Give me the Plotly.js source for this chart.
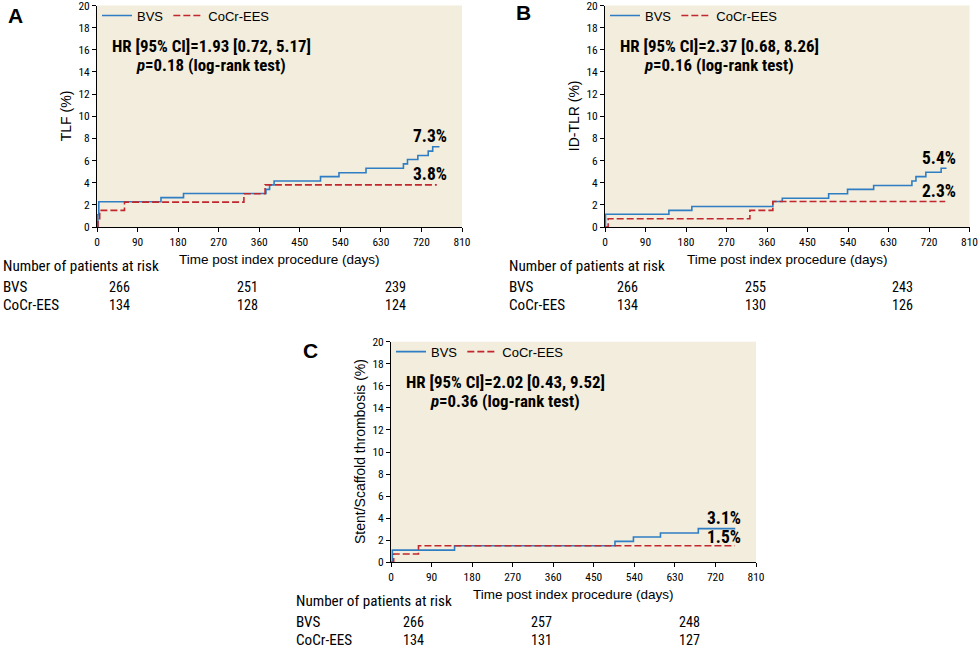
<!DOCTYPE html>
<html>
<head>
<meta charset="utf-8">
<script src="https://cdn.plot.ly/plotly-3.0.1.min.js"></script>
<style>
html,body{margin:0;padding:0;background:#fff;}
#chart{width:979px;height:650px;}
svg text{font-stretch:condensed;}
</style>
</head>
<body>
<div id="chart"></div>
<script>
// ---------- DATA ----------
// Panel A: TLF (%)
const A_bvs_days = [0, 2, 4, 142, 192, 375, 383, 393, 496, 537, 597, 680, 689, 712, 735, 745, 760];
const A_bvs_pct  = [0, 1.1, 2.28, 2.65, 3.03, 3.4, 3.8, 4.15, 4.55, 4.9, 5.3, 5.7, 6.1, 6.45, 6.85, 7.25, 7.25];
const A_ees_days = [0, 2, 6, 61, 326, 373, 754];
const A_ees_pct  = [0, 0.75, 1.5, 2.25, 3.0, 3.8, 3.8];
// Panel B: ID-TLR (%)
const B_bvs_days = [0, 1, 142, 193, 373, 394, 497, 539, 597, 682, 691, 713, 747, 759];
const B_bvs_pct  = [0, 1.15, 1.5, 1.85, 2.3, 2.6, 3.0, 3.4, 3.75, 4.15, 4.55, 4.95, 5.3, 5.3];
const B_ees_days = [0, 7, 322, 373, 756];
const B_ees_pct  = [0, 0.75, 1.5, 2.3, 2.3];
// Panel C: Stent/Scaffold thrombosis (%)
const C_bvs_days = [0, 3, 141, 497, 538, 598, 682, 764];
const C_bvs_pct  = [0, 1.1, 1.5, 1.9, 2.3, 2.65, 3.05, 3.05];
const C_ees_days = [0, 6, 61, 763];
const C_ees_pct  = [0, 0.75, 1.5, 1.5];

const seriesNames = ["BVS", "CoCr-EES"];
const panelLetters = ["A", "B", "C"];
const yTitles = ["TLF (%)", "ID-TLR (%)", "Stent/Scaffold thrombosis (%)"];
const xTitle = "Time post index procedure (days)";
const riskTitle = "Number of patients at risk";
const hrTexts = ["HR [95% CI]=1.93 [0.72, 5.17]", "HR [95% CI]=2.37 [0.68, 8.26]", "HR [95% CI]=2.02 [0.43, 9.52]"];
const pTexts = ["0.18", "0.16", "0.36"];
const endBvs = ["7.3%", "5.4%", "3.1%"];
const endEes = ["3.8%", "2.3%", "1.5%"];
const riskBvs = [[266, 251, 239], [266, 255, 243], [266, 257, 248]];
const riskEes = [[134, 128, 124], [134, 130, 126], [134, 131, 127]];
const xTicks = [0, 90, 180, 270, 360, 450, 540, 630, 720, 810];
const yTicks = [0, 2, 4, 6, 8, 10, 12, 14, 16, 18, 20];

// ---------- STYLE / LAYOUT HELPERS ----------
const W = 979, H = 650;
const px = x => x / W;
const py = y => 1 - y / H;
const BLUE = "#2f7ec3", RED = "#c1272d", BG = "#f2eddc";
const NARROW = '"Liberation Sans Narrow", "Roboto Condensed", "DejaVu Sans Condensed", "DejaVu Sans", sans-serif';
const REG = '"Liberation Sans", Arial, sans-serif';

// choose a font size so that the text gets a target width (condensed face when available)
const ctx = document.createElement("canvas").getContext("2d");
function fitSize(text, weight, target, maxSize) {
  ctx.font = weight + " condensed 100px " + NARROW;
  try { ctx.fontStretch = "condensed"; } catch (e) {}
  const w = ctx.measureText(text).width;
  return Math.min(maxSize, 100 * target / w);
}
const hrSize = fitSize(hrTexts[0], "bold", 199, 18);
const endSize = fitSize(endBvs[0], "bold", 34, 18);
const tickSize = fitSize("810", "normal", 17, 12);
const riskLabelSize = fitSize(riskTitle, "normal", 156, 17);
const riskNumSize = fitSize("266", "normal", 21, 17);

// plot boxes in pixels: [left, right, top, bottom]
const boxes = [[97, 462, 5.5, 227], [605, 969.5, 5.5, 227], [391, 756, 341.7, 562.3]];
const riskDays = [50, 335, 662];
const endX = [782, 784, 781];
const endYBvs = [8.2, 6.2, 4.05];
const endYEes = [4.8, 3.25, 2.25];

const bvsDays = [A_bvs_days, B_bvs_days, C_bvs_days];
const bvsPct = [A_bvs_pct, B_bvs_pct, C_bvs_pct];
const eesDays = [A_ees_days, B_ees_days, C_ees_days];
const eesPct = [A_ees_pct, B_ees_pct, C_ees_pct];

const traces = [];
const annotations = [];
const layout = {
  width: W, height: H,
  margin: {l: 0, r: 0, t: 0, b: 0},
  paper_bgcolor: "#ffffff",
  plot_bgcolor: BG,
  showlegend: true,
  font: {family: NARROW, color: "#000"},
  annotations: annotations
};

for (let i = 0; i < 3; i++) {
  const [L, R, T, B] = boxes[i];
  const sfx = i === 0 ? "" : String(i + 1);
  const xr = "x" + sfx, yr = "y" + sfx;
  const lg = i === 0 ? "legend" : "legend" + (i + 1);
  const axCommon = {
    ticks: "outside", ticklen: 4, tickwidth: 1, tickcolor: "#000",
    showline: true, linecolor: "#000", linewidth: 1, showgrid: false, zeroline: false,
    tickfont: {family: NARROW, size: tickSize, color: "#000"}, fixedrange: true,
    ticklabeloverflow: "allow"
  };
  layout["xaxis" + sfx] = Object.assign({
    domain: [px(L), px(R)], anchor: yr, range: [0, 810], tickmode: "array", tickvals: xTicks
  }, axCommon);
  layout["yaxis" + sfx] = Object.assign({
    domain: [py(B), py(T)], anchor: xr, range: [0, 20], tickmode: "array", tickvals: yTicks
  }, axCommon);
  layout[lg] = {
    x: px(L), y: py(T - 5), xanchor: "left", yanchor: "top",
    orientation: "h", bgcolor: "rgba(0,0,0,0)", borderwidth: 0,
    font: {family: REG, size: 13, color: "#000"}, itemwidth: 30, tracegroupgap: 0
  };
  traces.push({
    x: bvsDays[i], y: bvsPct[i], xaxis: xr, yaxis: yr, type: "scatter", mode: "lines",
    line: {shape: "hv", color: BLUE, width: 1.6}, name: seriesNames[0], legend: lg, hoverinfo: "skip"
  });
  traces.push({
    x: eesDays[i], y: eesPct[i], xaxis: xr, yaxis: yr, type: "scatter", mode: "lines",
    line: {shape: "hv", color: RED, width: 1.6, dash: "7px,3px"}, name: seriesNames[1], legend: lg, hoverinfo: "skip"
  });

  const cx = (L + R) / 2;
  // panel letter
  annotations.push({text: "<b>" + panelLetters[i] + "</b>", xref: "paper", yref: "paper",
    x: px([6, 514, 301][i]), y: py(T + [9.5, 7, 9][i]), xanchor: "left", yanchor: "middle",
    showarrow: false, font: {family: REG, size: 21, color: "#000"}});
  // HR and p text
  annotations.push({text: "<b>" + hrTexts[i] + "</b>", xref: "paper", yref: "paper",
    x: px(L + 114), y: py(T + 40), xanchor: "center", yanchor: "middle",
    showarrow: false, font: {family: NARROW, size: hrSize, color: "#000"}});
  annotations.push({text: "<b><i>p</i>=" + pTexts[i] + " (log-rank test)</b>", xref: "paper", yref: "paper",
    x: px(L + 114), y: py(T + 59), xanchor: "center", yanchor: "middle",
    showarrow: false, font: {family: NARROW, size: hrSize, color: "#000"}});
  // end-of-curve labels
  annotations.push({text: "<b>" + endBvs[i] + "</b>", xref: xr, yref: yr,
    x: endX[i], y: endYBvs[i], xanchor: "right", yanchor: "middle",
    showarrow: false, font: {family: NARROW, size: endSize, color: "#000"}});
  annotations.push({text: "<b>" + endEes[i] + "</b>", xref: xr, yref: yr,
    x: endX[i], y: endYEes[i], xanchor: "right", yanchor: "middle",
    showarrow: false, font: {family: NARROW, size: endSize, color: "#000"}});
  // axis titles
  annotations.push({text: xTitle, xref: "paper", yref: "paper",
    x: px(cx), y: py(B + 32), xanchor: "center", yanchor: "middle",
    showarrow: false, font: {family: REG, size: 13.5, color: "#000"}});
  annotations.push({text: yTitles[i], xref: "paper", yref: "paper",
    x: px(L - 31), y: py((T + B) / 2), xanchor: "center", yanchor: "middle", textangle: -90,
    showarrow: false, font: {family: REG, size: 14, color: "#000"}});
  // number at risk table
  const tl = [1, 507, 294][i];
  const rowY = [B + 39, B + 60, B + 78];
  annotations.push({text: riskTitle, xref: "paper", yref: "paper",
    x: px(tl), y: py(rowY[0]), xanchor: "left", yanchor: "middle",
    showarrow: false, font: {family: NARROW, size: riskLabelSize, color: "#000"}});
  annotations.push({text: seriesNames[0], xref: "paper", yref: "paper",
    x: px(tl), y: py(rowY[1]), xanchor: "left", yanchor: "middle",
    showarrow: false, font: {family: NARROW, size: riskLabelSize, color: "#000"}});
  annotations.push({text: seriesNames[1], xref: "paper", yref: "paper",
    x: px(tl), y: py(rowY[2]), xanchor: "left", yanchor: "middle",
    showarrow: false, font: {family: NARROW, size: riskLabelSize, color: "#000"}});
  for (let k = 0; k < 3; k++) {
    annotations.push({text: String(riskBvs[i][k]), xref: xr, yref: "paper",
      x: riskDays[k], y: py(rowY[1]), xanchor: "center", yanchor: "middle",
      showarrow: false, font: {family: NARROW, size: riskNumSize, color: "#000"}});
    annotations.push({text: String(riskEes[i][k]), xref: xr, yref: "paper",
      x: riskDays[k], y: py(rowY[2]), xanchor: "center", yanchor: "middle",
      showarrow: false, font: {family: NARROW, size: riskNumSize, color: "#000"}});
  }
}

Plotly.newPlot("chart", traces, layout, {staticPlot: true, displayModeBar: false});
</script>
</body>
</html>
